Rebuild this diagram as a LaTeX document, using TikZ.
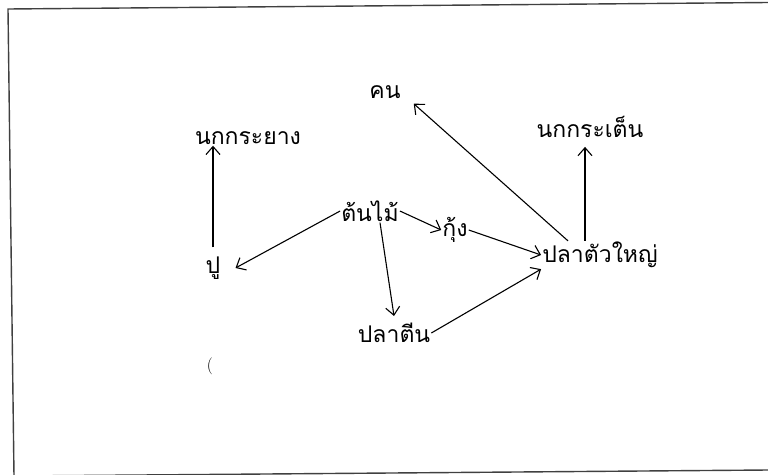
\documentclass[tikz,border=0pt]{standalone}
\usepackage{fontspec}
\newfontfamily\thaifont[Script=Thai]{Loma}
\usetikzlibrary{arrows.meta}

\begin{document}
\begin{tikzpicture}[x=1pt, y=-1pt,
        animal/.style={font=\thaifont\fontsize{23}{27}\selectfont, inner sep=1pt},
        eats/.style={-{Straight Barb[length=8pt, width=14pt]}, line width=1.1pt},
        frame/.style={line width=1.4pt, draw=black!75}]
    \useasboundingbox (0,0) rectangle (768,474);
    \draw[frame] (768,2.5) -- (8,9) -- (14,476);
    \draw[frame] (14,476) -- (768,470);

    \node[animal] (khon) at (385,92) {คน};
    \node[animal] (kraten) at (590,127) {นกกระเต็น};
    \node[animal] (krayang) at (248,138) {นกกระยาง};
    \node[animal] (tonmai) at (370,211) {ต้นไม้};
    \node[animal] (kung) at (455,230) {กุ้ง};
    \node[animal] (playai) at (600,255) {ปลาตัวใหญ่};
    \node[animal] (pu) at (213,268) {ปู};
    \node[animal] (platin) at (394,333) {ปลาตีน};
    \node[animal, font=\fontsize{17}{20}\selectfont] (mark) at (210,366) {(};

    \draw[eats] (tonmai.west) -- ([xshift=14pt]pu.east);
    \draw[eats] (tonmai.east) -- (kung.west);
    \draw[eats] ([xshift=10pt]tonmai.south) -- ([yshift=6pt]platin.north);
    \draw[eats] (kung.east) -- (playai.west);
    \draw[eats] (platin.east) -- (playai.south west);
    \draw[eats, shorten <=8pt] (pu.north) -- (krayang.south -| pu.north);
    \draw[eats] ([xshift=-32pt]playai.north) -- ([xshift=12pt, yshift=-4pt]khon.south east);
    \draw[eats] ([xshift=-15pt]playai.north) -- ([xshift=-5pt, yshift=-8pt]kraten.south);
\end{tikzpicture}
\end{document}
